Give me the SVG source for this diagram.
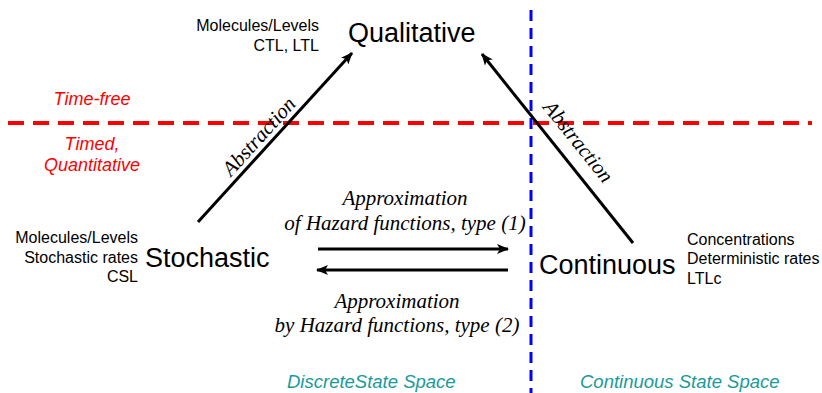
<svg xmlns="http://www.w3.org/2000/svg" width="822" height="393" viewBox="0 0 822 393">
<defs>
<marker id="ah" viewBox="0 0 12 10" refX="11" refY="5" markerWidth="12" markerHeight="10" markerUnits="userSpaceOnUse" orient="auto">
<path d="M0,0 L12,5 L0,10 L3,5 z" fill="#000"/>
</marker>
<style>
.sans{font-family:"Liberation Sans",Arial,sans-serif}
.big{font-size:27px;fill:#000}
.small{font-size:16px;fill:#000}
.red{font-size:18px;fill:#f00;font-style:italic}
.teal{font-size:18.5px;fill:#1a9a9a;font-style:italic}
.ser{font-family:"Liberation Serif","Times New Roman",serif;font-style:italic;font-size:21px;fill:#000}
.arr{stroke:#000;stroke-width:3;fill:none;marker-end:url(#ah)}
</style>
</defs>
<rect width="822" height="393" fill="#fff"/>
<g id="dividers">
<line x1="8" y1="123" x2="812" y2="123" stroke="#f00" stroke-width="4" stroke-dasharray="16,9"/>
<line x1="531" y1="10" x2="531" y2="393" stroke="#00f" stroke-width="3" stroke-dasharray="11,7"/>
</g>
<g id="regions" class="sans">
<text class="red" x="92" y="105" text-anchor="middle">Time-free</text>
<text class="red" x="92" y="150" text-anchor="middle">Timed,</text>
<text class="red" x="92" y="171" text-anchor="middle">Quantitative</text>
<text class="teal" x="287" y="388">DiscreteState Space</text>
<text class="teal" x="580" y="388">Continuous State Space</text>
</g>
<g id="connectors">
<line class="arr" x1="198" y1="222" x2="352" y2="53"/>
<line class="arr" x1="633" y1="243" x2="482" y2="54"/>
<line class="arr" x1="318" y1="249" x2="508" y2="249"/>
<line class="arr" x1="508" y1="270" x2="317" y2="270"/>
<text class="ser" transform="translate(264,141) rotate(-47.8)" text-anchor="middle">Abstraction</text>
<text class="ser" transform="translate(573,146) rotate(51.3)" text-anchor="middle">Abstraction</text>
<text class="ser" x="405" y="205" text-anchor="middle">Approximation</text>
<text class="ser" x="405" y="230" text-anchor="middle">of Hazard functions, type (1)</text>
<text class="ser" x="397" y="308" text-anchor="middle">Approximation</text>
<text class="ser" x="397" y="332" text-anchor="middle">by Hazard functions, type (2)</text>
</g>
<g id="qualitative" class="sans">
<text class="big" x="348" y="42">Qualitative</text>
<text class="small" x="319" y="31" text-anchor="end">Molecules/Levels</text>
<text class="small" x="319" y="51" text-anchor="end">CTL, LTL</text>
</g>
<g id="stochastic" class="sans">
<text class="big" x="145" y="267">Stochastic</text>
<text class="small" x="138" y="243" text-anchor="end">Molecules/Levels</text>
<text class="small" x="138" y="263" text-anchor="end">Stochastic rates</text>
<text class="small" x="138" y="282" text-anchor="end">CSL</text>
</g>
<g id="continuous" class="sans">
<text class="big" x="539" y="274">Continuous</text>
<text class="small" x="687" y="245">Concentrations</text>
<text class="small" x="687" y="264">Deterministic rates</text>
<text class="small" x="687" y="284">LTLc</text>
</g>
</svg>
